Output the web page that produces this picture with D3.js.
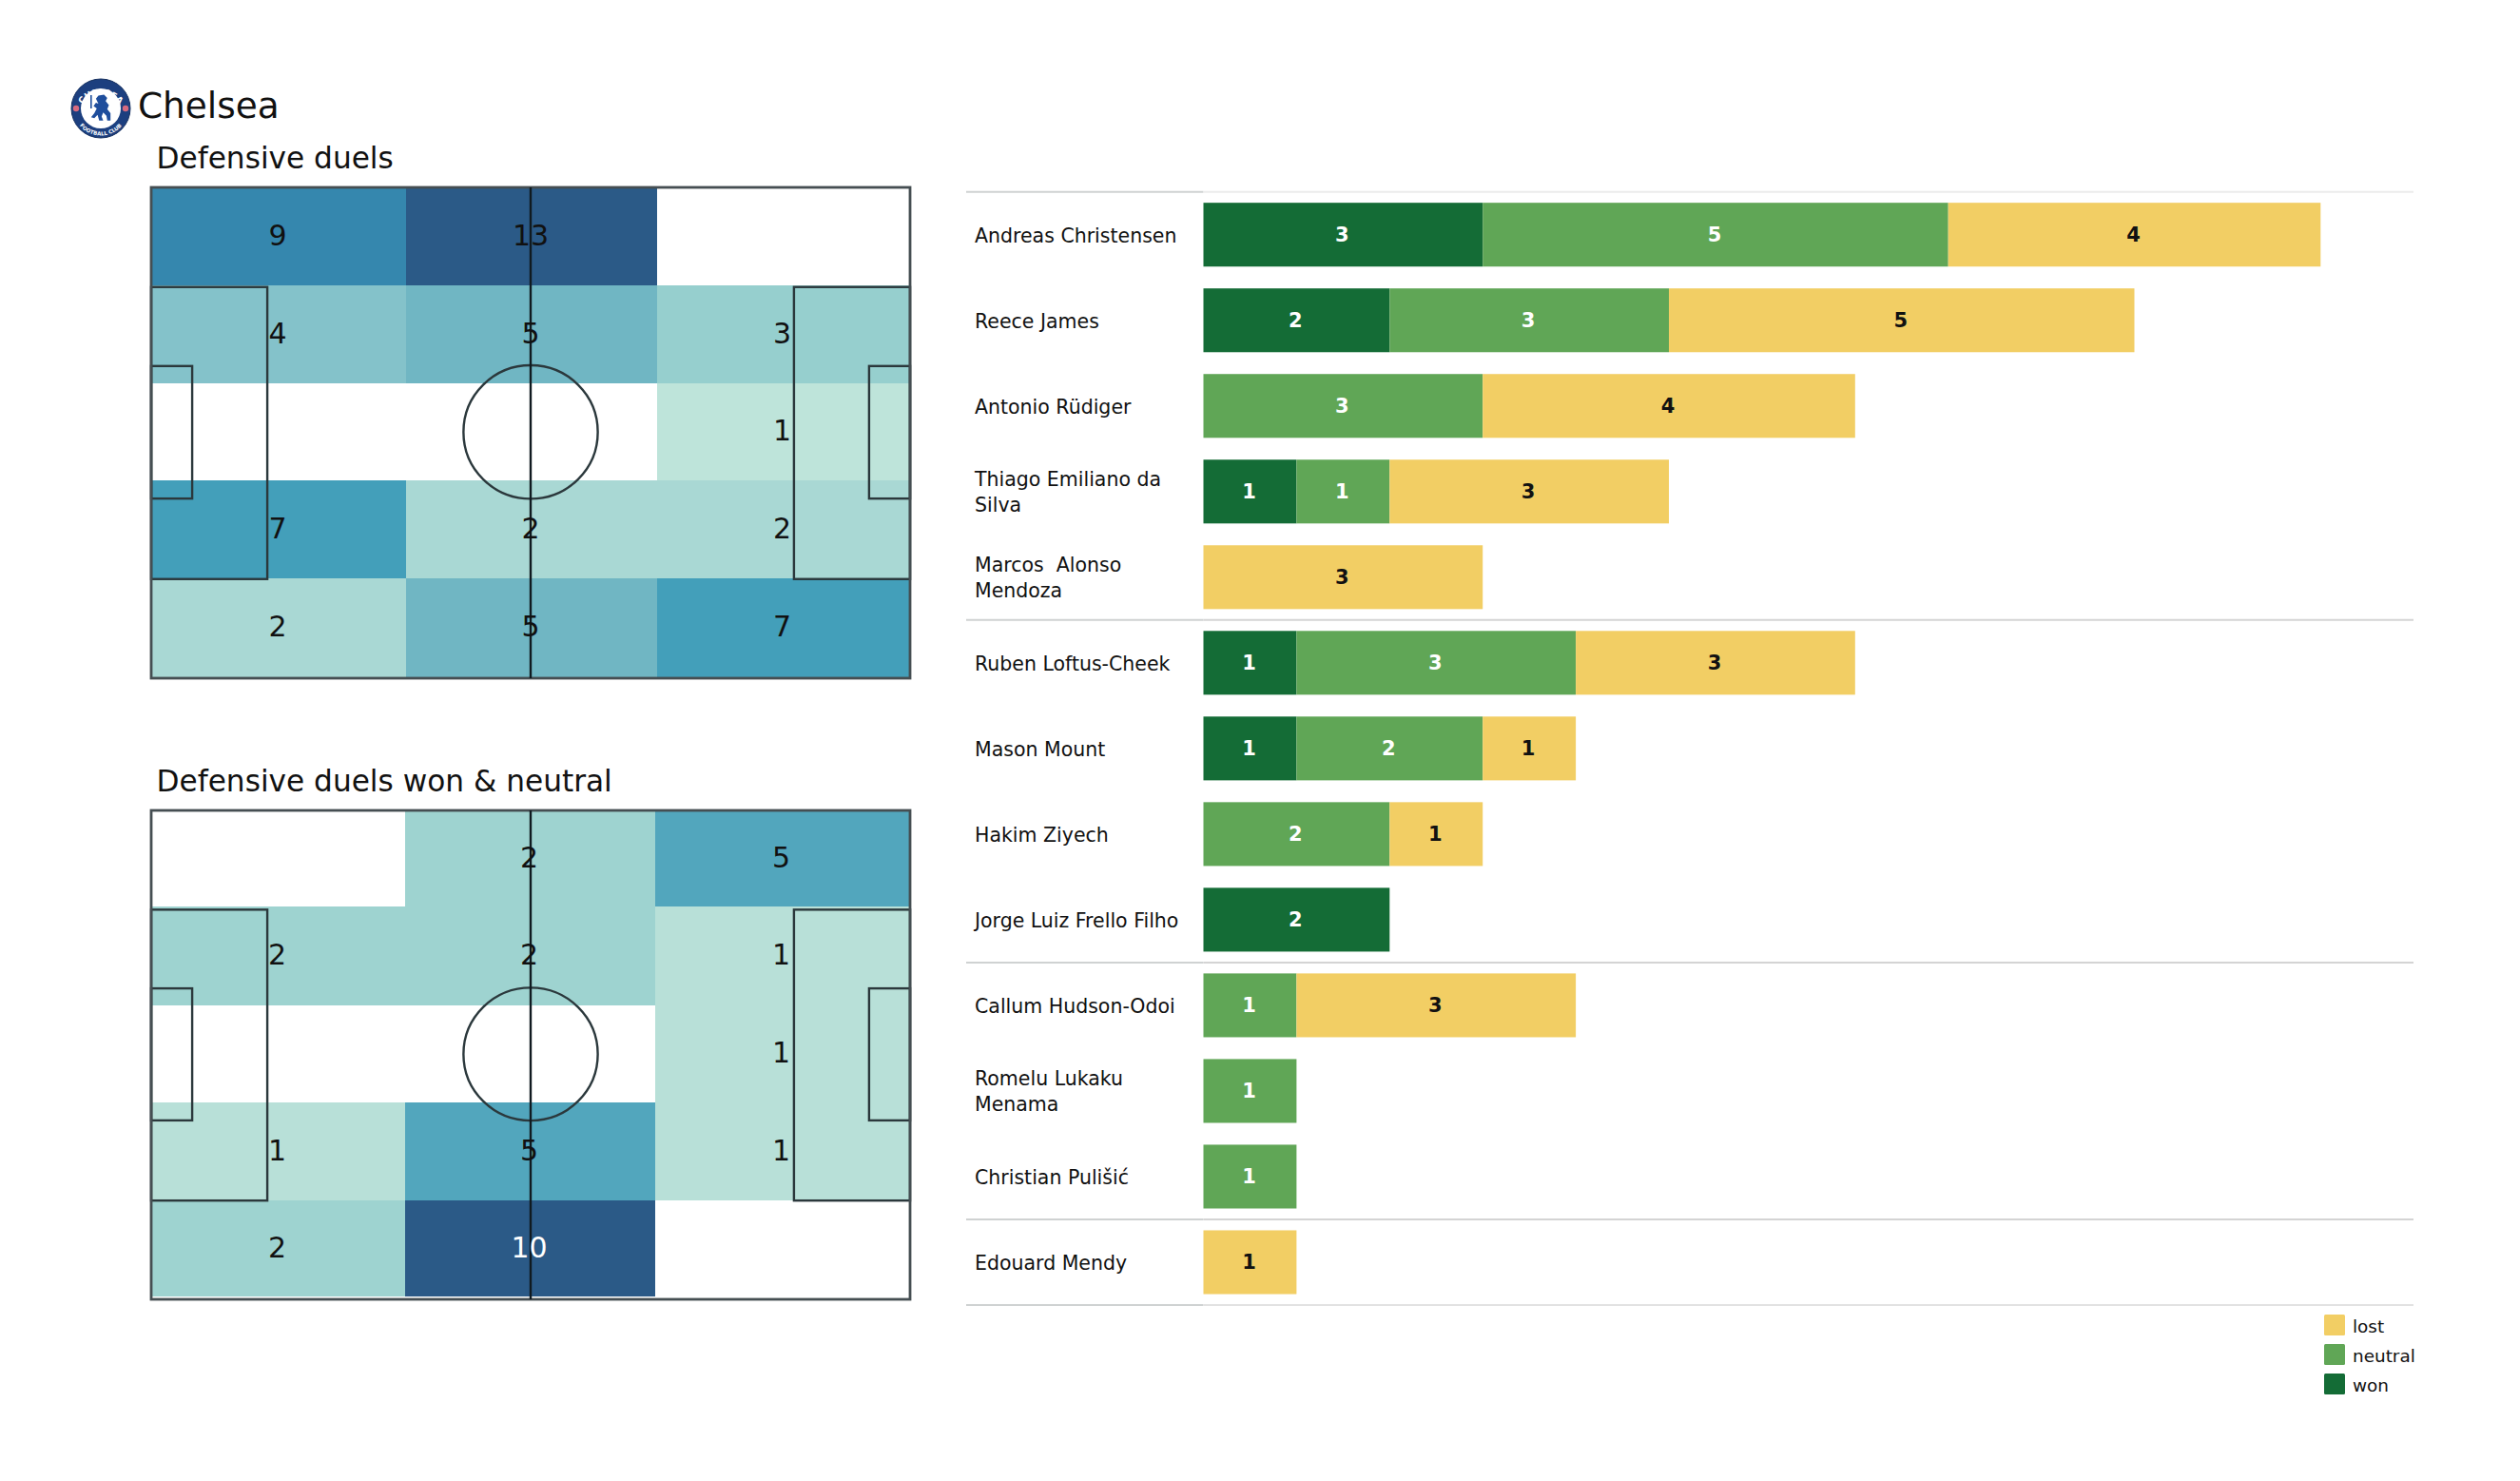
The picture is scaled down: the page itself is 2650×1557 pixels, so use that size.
<!DOCTYPE html>
<html>
<head>
<meta charset="utf-8">
<script src="https://cdn.jsdelivr.net/npm/d3@7"></script>
<style>
  body { margin: 0; background: #fff; }
  text { font-family: "DejaVu Sans", sans-serif; white-space: pre; }
</style>
</head>
<body>
<div class="chart"></div>
<script>
// DATA
var players = [
  "Andreas Christensen", "Reece James", "Antonio Rüdiger", "Thiago Emiliano da\nSilva",
  "Marcos  Alonso\nMendoza", "Ruben Loftus-Cheek", "Mason Mount", "Hakim Ziyech",
  "Jorge Luiz Frello Filho", "Callum Hudson-Odoi", "Romelu Lukaku\nMenama",
  "Christian Pulišić", "Edouard Mendy"
];
var won     = [3, 2, 0, 1, 0, 1, 1, 0, 2, 0, 0, 0, 0];
var neutral = [5, 3, 3, 1, 0, 3, 2, 2, 0, 1, 1, 1, 0];
var lost    = [4, 5, 4, 3, 3, 3, 1, 1, 0, 3, 0, 0, 1];
var outcomes = ["won", "neutral", "lost"];
var legendOrder = ["lost", "neutral", "won"];
// how many players sit above each separator line
var groupEnds = [5, 9, 12];

var duelsAll = [
  [9, 13, 0],
  [4, 5, 3],
  [0, 0, 1],
  [7, 2, 2],
  [2, 5, 7]
];
var duelsWonNeutral = [
  [0, 2, 5],
  [2, 2, 1],
  [0, 0, 1],
  [1, 5, 1],
  [2, 10, 0]
];

var svgWidth = 2650;
var svgHeight = 1557;

var svg = d3.select(".chart")
  .append("svg")
  .attr("width", svgWidth)
  .attr("height", svgHeight)
  .style("display", "block");

// TITLE + CREST
function drawCrest(cx, cy) {
  var g = svg.append("g").attr("transform", `translate(${cx}, ${cy})`);
  g.append("circle").attr("r", 31).attr("fill", "#1c3f7f").attr("stroke", "#16305f").attr("stroke-width", 1);
  g.append("circle").attr("r", 21).attr("fill", "#fff");

  // roses on the ring
  g.selectAll("circle.rose")
    .data([-1, 1])
    .enter()
    .append("circle")
    .attr("class", "rose")
    .attr("cx", d => d * 26)
    .attr("cy", 0)
    .attr("r", 3.2)
    .attr("fill", "#d66a7f");

  var defs = g.append("defs");
  defs.append("path").attr("id", "crestTop").attr("d", "M -24.5 6 A 25 25 0 0 1 24.5 6");
  defs.append("path").attr("id", "crestBottom").attr("d", "M -27 10 A 29 29 0 0 0 27 10");
  g.append("text").attr("font-size", 9).attr("font-weight", "bold").attr("fill", "#fff")
    .append("textPath").attr("href", "#crestTop").attr("startOffset", "50%").attr("text-anchor", "middle")
    .text("CHELSEA");
  g.append("text").attr("font-size", 5.5).attr("font-weight", "bold").attr("fill", "#fff")
    .append("textPath").attr("href", "#crestBottom").attr("startOffset", "50%").attr("text-anchor", "middle")
    .text("FOOTBALL CLUB");

  // lion, rough silhouette
  g.append("path")
    .attr("fill", "#1f4e9c")
    .attr("transform", "scale(0.85)")
    .attr("d", "M -3 -16 L 4 -17 L 8 -13 L 6 -9 L 10 -4 L 8 1 L 12 6 L 12 15 L 8 15 L 7 9 L 3 5 L 1 10 L 3 15 L -2 15 L -4 8 L -8 12 L -12 11 L -8 6 L -5 0 L -9 -3 L -6 -7 L -3 -6 L -6 -12 Z");
  g.append("rect").attr("x", -11).attr("y", -14).attr("width", 1.6).attr("height", 14).attr("fill", "#1f4e9c");
}
drawCrest(106, 114);

svg.append("text")
  .attr("x", 145)
  .attr("y", 124)
  .attr("font-size", 37.4)
  .attr("fill", "#111")
  .text("Chelsea");

// HEATMAP PITCHES
var heatStops = [0, 0.077, 0.154, 0.23, 0.31, 0.385, 0.5, 0.54, 0.69, 1];
var heatColors = ["#d2eee3", "#bee4da", "#a9d8d4", "#96cfce", "#83c2ca", "#70b6c3", "#52a6bd", "#429fba", "#3587ae", "#2b5a87"];
var heatColor = d3.scaleLinear().domain(heatStops).range(heatColors);

function drawPitch(title, grid, layout) {
  var colEdge = d3.scaleLinear().domain(d3.range(4)).range(layout.cols);
  var rowEdge = d3.scaleLinear().domain(d3.range(6)).range(layout.rows);

  svg.append("text")
    .attr("x", 164.5)
    .attr("y", layout.titleY)
    .attr("font-size", 31.2)
    .attr("fill", "#111")
    .text(title);

  var maxVal = d3.max(grid.flat());

  var cells = [];
  grid.forEach(function(row, r) {
    row.forEach(function(v, c) {
      cells.push({ r: r, c: c, v: v });
    });
  });

  svg.append("g").selectAll("rect")
    .data(cells)
    .enter()
    .append("rect")
    .attr("x", d => colEdge(d.c))
    .attr("y", d => rowEdge(d.r))
    .attr("width", d => colEdge(d.c + 1) - colEdge(d.c))
    .attr("height", d => rowEdge(d.r + 1) - rowEdge(d.r))
    .attr("fill", d => d.v > 0 ? heatColor(d.v / maxVal) : "#fff");

  // pitch lines, in percent of the pitch
  var left = 159;
  var right = 957;
  var px = d3.scaleLinear().domain([0, 100]).range([left, right]);
  var py = d3.scaleLinear().domain([0, 100]).range([layout.top, layout.bottom]);
  var lines = svg.append("g").attr("fill", "none").attr("stroke", "#2b383c").attr("stroke-width", 2.4);

  [[0, 20.3, 15.3, 59.5], [84.7, 20.3, 15.3, 59.5], [0, 36.4, 5.4, 27], [94.6, 36.4, 5.4, 27]].forEach(function(b) {
    lines.append("rect")
      .attr("x", px(b[0]))
      .attr("y", py(b[1]))
      .attr("width", px(b[2]) - px(0))
      .attr("height", py(b[3]) - py(0));
  });

  lines.append("ellipse")
    .attr("cx", px(50))
    .attr("cy", py(49.85))
    .attr("rx", px(8.85) - px(0))
    .attr("ry", py(13.6) - py(0));

  lines.append("rect")
    .attr("x", left)
    .attr("y", layout.top)
    .attr("width", right - left)
    .attr("height", layout.bottom - layout.top)
    .attr("stroke", "#454e52")
    .attr("stroke-width", 2.8);

  lines.append("line")
    .attr("x1", px(50))
    .attr("x2", px(50))
    .attr("y1", layout.top)
    .attr("y2", layout.bottom)
    .attr("stroke", "#101a20");

  // values on top of the lines
  svg.append("g").selectAll("text")
    .data(cells.filter(d => d.v > 0))
    .enter()
    .append("text")
    .attr("x", d => (colEdge(d.c) + colEdge(d.c + 1)) / 2 - 1)
    .attr("y", d => (rowEdge(d.r) + rowEdge(d.r + 1)) / 2 - 1.5)
    .attr("dy", ".35em")
    .attr("text-anchor", "middle")
    .attr("font-size", 30)
    .attr("fill", d => d.v === 10 ? "#fff" : "#111")
    .text(d => d.v);
}

drawPitch("Defensive duels", duelsAll, {
  titleY: 177, top: 197, bottom: 713,
  cols: [159, 427, 691, 956],
  rows: [198, 300, 403, 505, 608, 712]
});
drawPitch("Defensive duels won & neutral", duelsWonNeutral, {
  titleY: 832, top: 852, bottom: 1366,
  cols: [159, 426, 689, 956],
  rows: [853, 953, 1057, 1159, 1262, 1363]
});

// STACKED BARS
var barLeft = 1265.5;
var gridLeft = 1016;
var gridRight = 2538;
var rowTop = 201.7;
var rowBottom = 1372;

var xScale = d3.scaleLinear().domain([0, 12]).range([barLeft, barLeft + 97.9 * 12]);
var yScale = d3.scaleBand()
  .domain(players)
  .range([rowTop, rowBottom])
  .paddingInner(0.255)
  .paddingOuter(0.1275);

var rows = players.map(function(p, i) {
  return { player: p, won: won[i], neutral: neutral[i], lost: lost[i] };
});
var stacked = d3.stack().keys(outcomes)(rows);
var outcomeColor = d3.scaleOrdinal().domain(outcomes).range(["#146c36", "#60a656", "#f2ce64"]);
var labelColor = d3.scaleOrdinal().domain(outcomes).range(["#fff", "#fff", "#111"]);

// horizontal rules: the outer right parts are paler than the separators
var step = yScale.step();
var ruleRows = [0].concat(groupEnds).concat([players.length]);
svg.append("g").selectAll("line")
  .data(ruleRows)
  .enter()
  .append("line")
  .attr("x1", gridLeft)
  .attr("x2", barLeft)
  .attr("y1", d => rowTop + d * step)
  .attr("y2", d => rowTop + d * step)
  .attr("stroke", "#cfd2d2")
  .attr("stroke-width", 2);
svg.append("g").selectAll("line")
  .data(ruleRows)
  .enter()
  .append("line")
  .attr("x1", barLeft)
  .attr("x2", gridRight)
  .attr("y1", d => rowTop + d * step)
  .attr("y2", d => rowTop + d * step)
  .attr("stroke", d => (d === 0 ? "#ececec" : d === players.length ? "#e2e2e2" : "#d4d4d4"))
  .attr("stroke-width", 2);

var layers = svg.append("g").selectAll("g")
  .data(stacked)
  .enter()
  .append("g");

layers.selectAll("rect")
  .data(d => d.map(s => ({ key: d.key, s: s })).filter(o => o.s[1] > o.s[0]))
  .enter()
  .append("rect")
  .attr("x", d => xScale(d.s[0]))
  .attr("y", d => yScale(d.s.data.player))
  .attr("width", d => xScale(d.s[1]) - xScale(d.s[0]))
  .attr("height", yScale.bandwidth())
  .attr("fill", d => outcomeColor(d.key));

layers.selectAll("text")
  .data(d => d.map(s => ({ key: d.key, s: s })).filter(o => o.s[1] > o.s[0]))
  .enter()
  .append("text")
  .attr("x", d => (xScale(d.s[0]) + xScale(d.s[1])) / 2 - 1)
  .attr("y", d => yScale(d.s.data.player) + yScale.bandwidth() / 2 - 0.5)
  .attr("dy", ".35em")
  .attr("text-anchor", "middle")
  .attr("font-size", 21)
  .attr("font-weight", "bold")
  .attr("fill", d => labelColor(d.key))
  .text(d => d.s[1] - d.s[0]);

// player names, some of them on two lines
var names = svg.append("g").selectAll("text")
  .data(players)
  .enter()
  .append("text")
  .attr("font-size", 20.5)
  .attr("fill", "#111");

names.each(function(name) {
  var parts = name.split("\n");
  var mid = yScale(name) + yScale.bandwidth() / 2;
  var firstY = parts.length > 1 ? mid - 5.5 : mid + 8;
  d3.select(this).selectAll("tspan")
    .data(parts)
    .enter()
    .append("tspan")
    .attr("x", 1025)
    .attr("y", (d, i) => firstY + i * 26.7)
    .text(d => d);
});

// LEGEND
var legendY = d3.scaleBand().domain(legendOrder).range([1382, 1475]);
var legend = svg.append("g").selectAll("g")
  .data(legendOrder)
  .enter()
  .append("g")
  .attr("transform", d => `translate(2444, ${legendY(d)})`);

legend.append("rect")
  .attr("width", 22)
  .attr("height", 22)
  .attr("rx", 1.5)
  .attr("fill", d => outcomeColor(d));

legend.append("text")
  .attr("x", 30)
  .attr("y", 19)
  .attr("font-size", 18.4)
  .attr("fill", "#111")
  .text(d => d);
</script>
</body>
</html>
